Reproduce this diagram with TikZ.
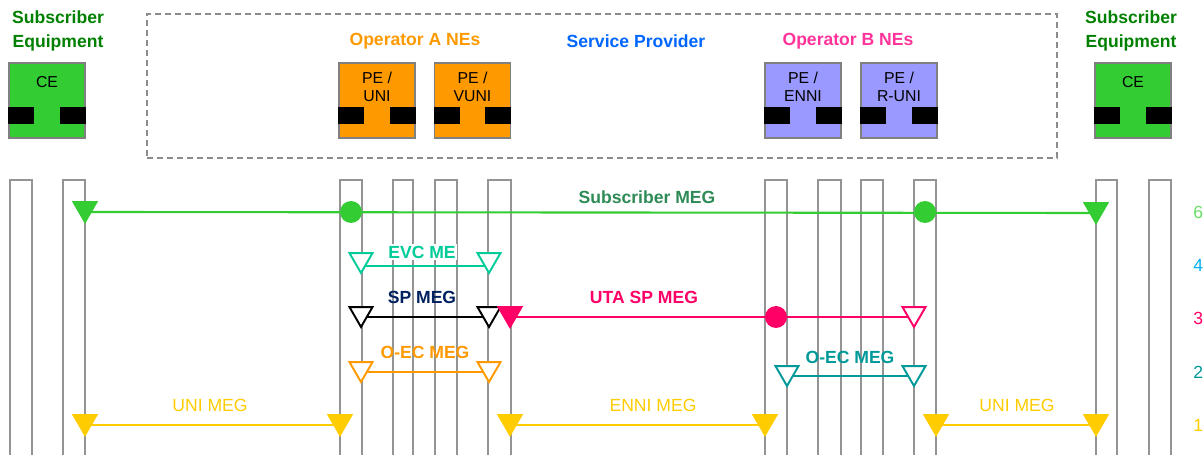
\documentclass[tikz,border=0pt]{standalone}
\usepackage{fontspec}
\setmainfont{Liberation Sans}
\usetikzlibrary{shapes.geometric,calc,positioning}

\definecolor{cegreen}{RGB}{51,204,51}
\definecolor{opA}{RGB}{255,153,0}
\definecolor{opB}{RGB}{153,153,255}
\definecolor{subtitle}{RGB}{0,128,0}
\definecolor{spblue}{RGB}{0,102,255}
\definecolor{opBpink}{RGB}{255,51,153}
\definecolor{submeg}{RGB}{46,139,87}
\definecolor{evc}{RGB}{0,204,153}
\definecolor{spnavy}{RGB}{0,32,96}
\definecolor{uta}{RGB}{255,0,102}
\definecolor{oecteal}{RGB}{0,153,153}
\definecolor{unimeg}{RGB}{255,204,0}
\definecolor{lvlsix}{RGB}{102,221,102}
\definecolor{lvlfour}{RGB}{0,176,240}

\begin{document}
\begin{tikzpicture}[x=0.02cm, y=-0.02cm,
    every node/.append style={align=center, font=\fontsize{10}{14}\selectfont},
    hdr/.style={font=\fontsize{10}{14}\selectfont\bfseries},
    nebox/.style={draw=black!50, line width=0.6pt, minimum width=1.52cm, minimum height=1.5cm, inner sep=0pt},
    netext/.style={anchor=north, inner sep=0pt, font=\fontsize{9}{10.2}\selectfont},
    spframe/.style={draw=black!45, line width=1.1pt, dash pattern=on 0.12cm off 0.08cm,
      minimum width=18.2cm, minimum height=2.88cm},
    col/.style={draw=black!42, line width=0.85pt},
    meg/.style={line width=1.2pt},
    mep/.style={regular polygon, regular polygon sides=3, shape border rotate=180,
      minimum size=0.53cm, inner sep=0pt, outer sep=0pt, anchor=corner 1, line width=1.1pt, fill=white},
    mip/.style={circle, minimum size=0.44cm, inner sep=0pt},
    lvl/.style={anchor=west, inner sep=0pt}]
   \useasboundingbox (0,0) rectangle (1204,455);

   \foreach \a/\b in {10/32,63/85,340/362,393/413,435/457,488/511,765/787,818/841,861/883,914/936,1096/1117,1149/1171}
      \draw[col] (\a,457) -- (\a,180) -- (\b,180) -- (\b,457);

   \node[spframe] (sp) at (602,86) {};
   \node[hdr, text=subtitle] (seL) at (58,31) {Subscriber\\Equipment};
   \node[hdr, text=subtitle] (seR) at (1131,31) {Subscriber\\Equipment};
   \node[hdr, text=opA] (opa) at (415,41) {Operator A NEs};
   \node[hdr, text=spblue] (spv) at (636,41) {Service Provider};
   \node[hdr, text=opBpink] (opb) at (848,41) {Operator B NEs};

   \foreach \n/\x/\c/\dy/\txt in {ceL/47/cegreen/14/CE, peuni/377/opA/9/{PE /\\UNI},
         pevuni/472.5/opA/9/{PE /\\VUNI}, peenni/803/opB/9/{PE /\\ENNI},
         peruni/899/opB/9/{PE /\\R-UNI}, ceR/1133/cegreen/14/CE} {
      \node[nebox, fill=\c] (\n) at (\x,100.5) {};
      \node[netext, yshift={-\dy*0.02cm}] (\n-t) at (\n.north) {\txt};
      \fill ($(\n.south west)+(0,-15)$) rectangle +(26,-17);
      \fill ($(\n.south east)+(0,-15)$) rectangle +(-26,-17);
   }

   \coordinate (s6a) at (85,212);  \coordinate (s6b) at (1096,213);
   \coordinate (e4a) at (361,266); \coordinate (e4b) at (489,266);
   \coordinate (sp3a) at (361,317); \coordinate (sp3b) at (489,317);
   \coordinate (uta3a) at (510,317); \coordinate (uta3b) at (914,317);
   \coordinate (oa2a) at (361,372); \coordinate (oa2b) at (489,372);
   \coordinate (ob2a) at (787,376); \coordinate (ob2b) at (914,376);
   \coordinate (u1a) at (85,425);  \coordinate (u1b) at (340,425);
   \coordinate (en1a) at (510,425); \coordinate (en1b) at (765,425);
   \coordinate (u1c) at (936,425); \coordinate (u1d) at (1096,425);

   \draw[meg, cegreen] (s6a) -- (s6b);
   \draw[meg, evc] (e4a) -- (e4b);
   \draw[meg, black] (sp3a) -- (sp3b);
   \draw[meg, uta] (uta3a) -- (uta3b);
   \draw[meg, opA] (oa2a) -- (oa2b);
   \draw[meg, oecteal] (ob2a) -- (ob2b);
   \draw[meg, unimeg] (u1a) -- (u1b);
   \draw[meg, unimeg] (en1a) -- (en1b);
   \draw[meg, unimeg] (u1c) -- (u1d);

   \node[mip, fill=cegreen] (mip6a) at (351,212) {};
   \node[mip, fill=cegreen] (mip6b) at (925,212) {};
   \node[mip, fill=uta] (mip3) at (776,317) {};

   \node[mep, draw=cegreen, fill=cegreen] (mep6a) at ($(s6a)+(0,10)$) {};
   \node[mep, draw=cegreen, fill=cegreen] (mep6b) at ($(s6b)+(0,10)$) {};
   \node[mep, draw=evc] (mep4a) at ($(e4a)+(0,7)$) {};
   \node[mep, draw=evc] (mep4b) at ($(e4b)+(0,7)$) {};
   \node[mep, draw=black] (mep3a) at ($(sp3a)+(0,10)$) {};
   \node[mep, draw=black] (mep3b) at ($(sp3b)+(0,10)$) {};
   \node[mep, draw=uta, fill=uta] (mep3c) at ($(uta3a)+(0,10)$) {};
   \node[mep, draw=uta] (mep3d) at ($(uta3b)+(0,10)$) {};
   \node[mep, draw=opA] (mep2a) at ($(oa2a)+(0,10)$) {};
   \node[mep, draw=opA] (mep2b) at ($(oa2b)+(0,10)$) {};
   \node[mep, draw=oecteal] (mep2c) at ($(ob2a)+(0,10)$) {};
   \node[mep, draw=oecteal] (mep2d) at ($(ob2b)+(0,10)$) {};
   \node[mep, draw=unimeg, fill=unimeg] (mep1a) at ($(u1a)+(0,10)$) {};
   \node[mep, draw=unimeg, fill=unimeg] (mep1b) at ($(u1b)+(0,10)$) {};
   \node[mep, draw=unimeg, fill=unimeg] (mep1c) at ($(en1a)+(0,10)$) {};
   \node[mep, draw=unimeg, fill=unimeg] (mep1d) at ($(en1b)+(0,10)$) {};
   \node[mep, draw=unimeg, fill=unimeg] (mep1e) at ($(u1c)+(0,10)$) {};
   \node[mep, draw=unimeg, fill=unimeg] (mep1f) at ($(u1d)+(0,10)$) {};

   \node[hdr, text=submeg] (l6) at (647,197) {Subscriber MEG};
   \node[hdr, text=evc, fill=white, inner sep=1pt] (l4) at (422,252) {EVC ME};
   \node[hdr, text=spnavy] (l3a) at (422,297) {SP MEG};
   \node[hdr, text=uta] (l3b) at (644,297) {UTA SP MEG};
   \node[hdr, text=opA] (l2a) at (425,352) {O-EC MEG};
   \node[hdr, text=oecteal] (l2b) at (850,357) {O-EC MEG};
   \node[text=unimeg] (l1a) at (210,405) {UNI MEG};
   \node[text=unimeg] (l1b) at (653,405) {ENNI MEG};
   \node[text=unimeg] (l1c) at (1017,405) {UNI MEG};

   \foreach \v/\y/\c in {6/212/lvlsix,4/265/lvlfour,3/318/uta,2/372/oecteal,1/425/unimeg}
      \node[lvl, text=\c] (n\v) at (1193,\y) {\v};
\end{tikzpicture}
\end{document}
